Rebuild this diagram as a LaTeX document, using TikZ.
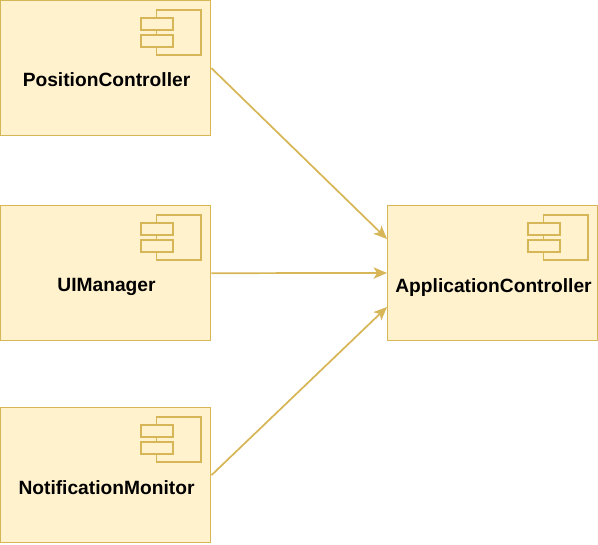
\documentclass[tikz,border=0pt]{standalone}
\usepackage{fontspec}
\setmainfont{Liberation Sans}
\usetikzlibrary{arrows.meta, positioning}
\definecolor{compfill}{HTML}{FFF2CC}
\definecolor{compline}{HTML}{D6B656}
\tikzset{
	component/.style={draw=compline, fill=compfill, line width=1pt, minimum width=157.6pt, minimum height=101.25pt, inner sep=0pt},
	iconpart/.style={draw=compline, fill=compfill, line width=1pt},
	labeltext/.style={anchor=base, inner sep=0pt, font=\bfseries\fontsize{14.4pt}{17pt}\selectfont, text=black},
	link/.style={draw=compline, line width=1.3pt, -{Stealth[length=10pt, width=8.5pt, inset=2.5pt]}}
}
% Component symbol in the top right of a box
\newcommand{\compicon}[1]{
	\draw[iconpart] ([shift={(-41pt,-7.5pt)}]#1.north east) rectangle ++(33.2pt,-33.75pt);
	\draw[iconpart] ([shift={(-52.9pt,-13.5pt)}]#1.north east) rectangle ++(24pt,-9pt);
	\draw[iconpart] ([shift={(-52.9pt,-26.25pt)}]#1.north east) rectangle ++(24pt,-9pt);
}
\begin{document}
\begin{tikzpicture}[x=0.75pt, y=-0.75pt]
	\useasboundingbox (0,0) rectangle (598,544);

	% Boxes
	\node[component, anchor=north west] (position) at (0,0) {};
	\node[component, anchor=north west] (uimanager) at (0,205) {};
	\node[component, anchor=north west] (monitor) at (0,407) {};
	\node[component, anchor=north west] (application) at (387,205) {};

	% Labels
	\node[labeltext] (positionlabel) at (106.5,86) {PositionController};
	\node[labeltext] (uimanagerlabel) at (106.5,291) {UIManager};
	\node[labeltext] (monitorlabel) at (106.5,494) {NotificationMonitor};
	\node[labeltext] (applicationlabel) at (493.5,292) {ApplicationController};

	% Icons
	\compicon{position}
	\compicon{uimanager}
	\compicon{monitor}
	\compicon{application}

	% Connectors
	\coordinate (appupper) at (387,239);
	\coordinate (appmiddle) at (387,273);
	\coordinate (applower) at (387,307);
	\draw[link] (position.east) -- (appupper);
	\draw[link] (uimanager.east) -- (appmiddle);
	\draw[link] (monitor.east) -- (applower);
\end{tikzpicture}
\end{document}
